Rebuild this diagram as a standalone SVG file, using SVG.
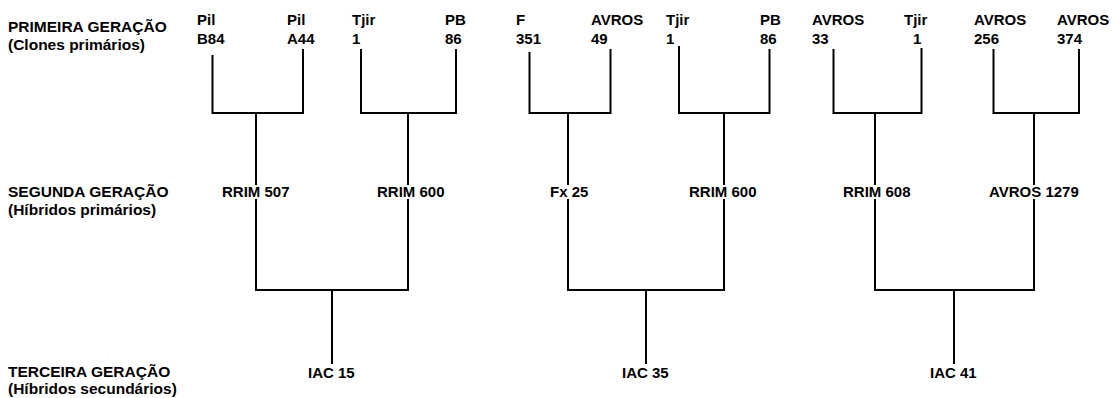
<svg xmlns="http://www.w3.org/2000/svg" width="1113" height="398" viewBox="0 0 1113 398">
<style>
text { font-family: "Liberation Sans", Arial, Helvetica, sans-serif; font-size: 15px; font-weight: bold; fill: #000; }
.h { font-size: 15.5px; }
.c { fill: none; stroke: #000; stroke-width: 2; stroke-linecap: square; stroke-linejoin: miter; }
</style>
<rect width="1113" height="398" fill="#fff"/>
<g id="headings">
  <text class="h" x="8" y="32">PRIMEIRA GERAÇÃO</text>
  <text class="h" x="8" y="50">(Clones primários)</text>
  <text class="h" x="8" y="197">SEGUNDA GERAÇÃO</text>
  <text class="h" x="8" y="215">(Híbridos primários)</text>
  <text class="h" x="8" y="377">TERCEIRA GERAÇÃO</text>
  <text class="h" x="8" y="394">(Híbridos secundários)</text>
</g>
<g id="connectors">
  <path class="c" d="M212.5 56 V113 H303 V50"/>
  <path class="c" d="M256 113 V184"/>
  <path class="c" d="M361 50 V113 H456 V50"/>
  <path class="c" d="M408 113 V184"/>
  <path class="c" d="M529.5 53 V113 H610.5 V50"/>
  <path class="c" d="M568 113 V184"/>
  <path class="c" d="M679 47 V113 H769.5 V50"/>
  <path class="c" d="M724 113 V184"/>
  <path class="c" d="M833.5 50 V113 H921.5 V49"/>
  <path class="c" d="M875 113 V184"/>
  <path class="c" d="M993.5 50 V113 H1079 V50"/>
  <path class="c" d="M1034 113 V184"/>
  <path class="c" d="M256 200 V290 H408 V200"/>
  <path class="c" d="M332 290 V363"/>
  <path class="c" d="M568 200 V290 H724 V200"/>
  <path class="c" d="M646 290 V363"/>
  <path class="c" d="M875 200 V290 H1034 V200"/>
  <path class="c" d="M954 290 V363"/>
</g>
<g id="n-pil-b84"><text x="197" y="25">Pil</text><text x="197" y="44">B84</text></g>
<g id="n-pil-a44"><text x="287" y="25">Pil</text><text x="287" y="44">A44</text></g>
<g id="n-tjir1-a"><text x="352" y="25">Tjir</text><text x="352" y="44">1</text></g>
<g id="n-pb86-a"><text x="445" y="25">PB</text><text x="445" y="44">86</text></g>
<g id="n-f351"><text x="516" y="25">F</text><text x="516" y="44">351</text></g>
<g id="n-avros49"><text x="591" y="25">AVROS</text><text x="591" y="44">49</text></g>
<g id="n-tjir1-b"><text x="666" y="25">Tjir</text><text x="666" y="44">1</text></g>
<g id="n-pb86-b"><text x="760" y="25">PB</text><text x="760" y="44">86</text></g>
<g id="n-avros33"><text x="812" y="25">AVROS</text><text x="812" y="44">33</text></g>
<g id="n-tjir1-c"><text x="904" y="25">Tjir</text><text x="913" y="44">1</text></g>
<g id="n-avros256"><text x="974" y="25">AVROS</text><text x="974" y="44">256</text></g>
<g id="n-avros374"><text x="1057" y="25">AVROS</text><text x="1057" y="44">374</text></g>
<g id="n-rrim507"><text x="222" y="197">RRIM 507</text></g>
<g id="n-rrim600-a"><text x="377" y="197">RRIM 600</text></g>
<g id="n-fx25"><text x="550" y="197">Fx 25</text></g>
<g id="n-rrim600-b"><text x="689" y="197">RRIM 600</text></g>
<g id="n-rrim608"><text x="843" y="197">RRIM 608</text></g>
<g id="n-avros1279"><text x="989" y="197">AVROS 1279</text></g>
<g id="n-iac15"><text x="308" y="378">IAC 15</text></g>
<g id="n-iac35"><text x="622" y="378">IAC 35</text></g>
<g id="n-iac41"><text x="930" y="378">IAC 41</text></g>
</svg>
